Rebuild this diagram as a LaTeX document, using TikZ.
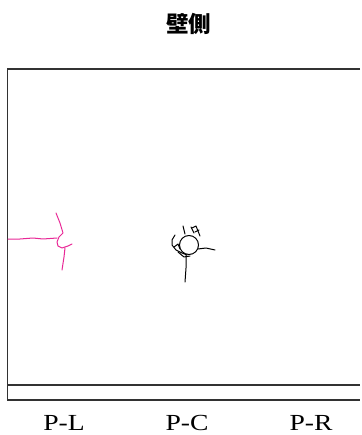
\documentclass[tikz,border=0pt]{standalone}
\usepackage{fontspec}
\setmainfont{Liberation Serif}
\newfontfamily\cjkfont{Noto Sans CJK JP}
\newfontfamily\labelfont[FakeStretch=1.2]{Liberation Serif}
\definecolor{pinkline}{RGB}{232,40,150}
\definecolor{frameline}{RGB}{50,50,50}
\begin{document}
\begin{tikzpicture}[x=1pt,y=-1pt,
  frame/.style={draw=frameline,line width=1.3pt},
  pinksk/.style={draw=pinkline,line width=1pt,line cap=round,line join=round},
  blacksk/.style={draw=black,line width=1pt,line cap=round,line join=round},
  label/.style={anchor=base,inner sep=0pt,font=\labelfont\fontsize{23}{26}\selectfont},
  title/.style={inner sep=0pt,font=\cjkfont\bfseries\fontsize{22.5}{26}\selectfont}]
\useasboundingbox (0,0) rectangle (361,435);
% frame
\coordinate (tl) at (7.5,69);
\coordinate (tr) at (360,69);
\coordinate (bl) at (7.5,400);
\coordinate (br) at (360,400);
\coordinate (ml) at (7.5,385);
\coordinate (mr) at (360,385);
\draw[frame] (tr) -- (tl) -- (bl) -- (br);
\draw[frame] (ml) -- (mr);
% title
\node[title] (wall) at (188.5,24) {壁側};
% labels
\node[label] (pl) at (64,430) {P-L};
\node[label] (pc) at (187,430) {P-C};
\node[label] (pr) at (311,430) {P-R};
% pink sketch
\draw[pinksk] (8,239) -- (20,239) -- (33,238) -- (43,239) -- (57,238);
\draw[pinksk] (56,213) -- (60,223) -- (63,233) -- (59,237) -- (57,242) -- (58,246) -- (62,248) -- (68,246) -- (72,244);
\draw[pinksk] (65,248) -- (64,257) -- (62,270);
% black sketch
\draw[blacksk] (189,245) circle (9.5);
\draw[blacksk] (198,249) -- (206,248) -- (215,250);
\draw[blacksk] (186,255) -- (186,268) -- (185,282);
\draw[blacksk] (183,226) -- (185,234);
\draw[blacksk] (191,227) -- (194,233);
\draw[blacksk] (192,228) -- (196,226) -- (198,231) -- (200,236);
\draw[blacksk] (195,232) -- (199,230);
\draw[blacksk] (175,235) -- (172,240) -- (172,245) -- (176,250) -- (182,253) -- (187,255);
\draw[blacksk] (174,247) -- (178,244) -- (180,249);
\draw[blacksk] (178,252) -- (184,257) -- (190,256);
\end{tikzpicture}
\end{document}
